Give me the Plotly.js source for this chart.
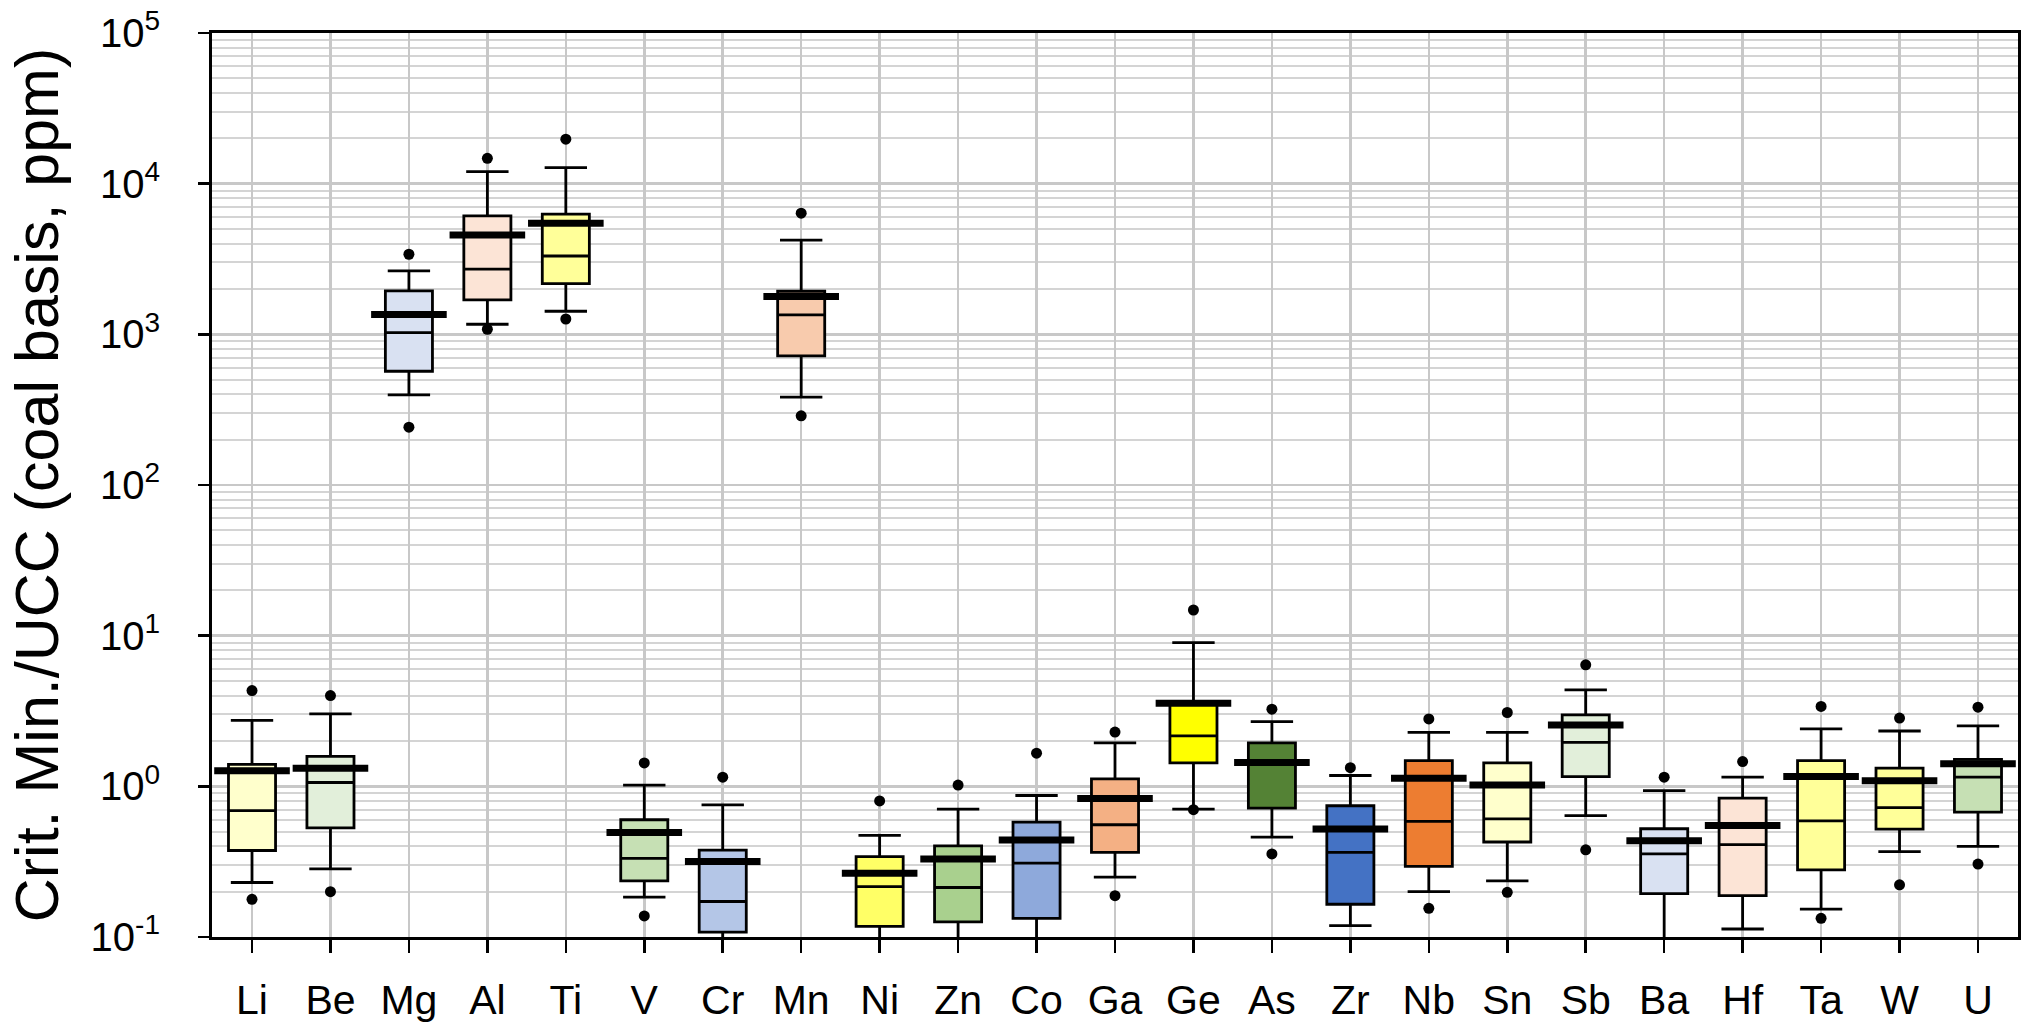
<!DOCTYPE html>
<html>
<head>
<meta charset="utf-8">
<script src="https://cdn.plot.ly/plotly-3.0.1.min.js"></script>
<style>html,body{margin:0;padding:0;background:#fff;}#chart{width:2024px;height:1024px;}</style>
</head>
<body>
<div id="chart"></div>
<script>
// Categories (critical elements)
const elements = ["Li","Be","Mg","Al","Ti","V","Cr","Mn","Ni","Zn","Co","Ga","Ge","As","Zr","Nb","Sn","Sb","Ba","Hf","Ta","W","U"];
// 5th percentile (lower dots)
const p5    = [0.178,0.20,242,1081,1264,0.138,0.05,288,0.06,0.07,0.07,0.188,0.70,0.356,0.09,0.155,0.198,0.379,0.07,0.08,0.133,0.222,0.305];
// 10th percentile (lower whisker)
const p10   = [0.23,0.283,396,1167,1423,0.184,0.07,383,0.08,0.09,0.09,0.25,0.706,0.46,0.119,0.20,0.236,0.64,0.09,0.113,0.153,0.369,0.40];
// 25th percentile
const q1    = [0.375,0.53,569,1692,2170,0.236,0.1077,720,0.1175,0.126,0.133,0.364,1.43,0.716,0.165,0.294,0.427,1.16,0.194,0.188,0.279,0.52,0.674];
// median
const med   = [0.69,1.06,1026,2705,3310,0.333,0.172,1346,0.216,0.213,0.309,0.556,2.16,1.42,0.364,0.585,0.608,1.96,0.356,0.41,0.59,0.723,1.15];
// mean
const mean  = [1.27,1.32,1352,4570,5460,0.494,0.317,1780,0.265,0.329,0.44,0.83,3.56,1.44,0.52,1.13,1.02,2.55,0.435,0.55,1.16,1.09,1.41];
// 75th percentile
const q3    = [1.40,1.58,1942,6110,6270,0.60,0.377,1932,0.342,0.403,0.578,1.12,3.60,1.94,0.743,1.48,1.43,2.98,0.523,0.835,1.48,1.32,1.51];
// 90th percentile (upper whisker)
const p90   = [2.74,3.03,2640,12020,12770,1.02,0.753,4225,0.472,0.706,0.869,1.94,9.0,2.69,1.18,2.28,2.28,4.37,0.937,1.15,2.41,2.33,2.52];
// 95th percentile (upper dots)
const p95   = [4.32,4.0,3400,14730,19720,1.43,1.15,6365,0.80,1.02,1.66,2.29,14.8,3.25,1.33,2.80,3.09,6.4,1.15,1.46,3.39,2.84,3.35];
// Box fill colours
const fills = ["#FFFFCC","#E2EFDA","#D9E1F2","#FCE4D6","#FFFF99","#C6E0B4","#B4C6E7","#F8CBAD","#FFFF66","#A9D08E","#8EA9DB","#F4B084","#FFFF00","#548235","#4472C4","#ED7D31","#FFFFCC","#E2EFDA","#D9E1F2","#FCE4D6","#FFFF99","#FFFF99","#C6E0B4"];
// Y tick labels
const yTickVals = [0.1,1,10,100,1000,10000,100000];
const yTickText = ["10<sup>-1</sup>","10<sup>0</sup>","10<sup>1</sup>","10<sup>2</sup>","10<sup>3</sup>","10<sup>4</sup>","10<sup>5</sup>"];

const FONT = "Arial, 'Liberation Sans', sans-serif";
const traces = [];
elements.forEach((el, i) => {
  traces.push({
    type: "box",
    x: [el],
    q1: [q1[i]], median: [med[i]], q3: [q3[i]],
    lowerfence: [p10[i]], upperfence: [p90[i]],
    fillcolor: fills[i],
    line: {color: "#000000", width: 2.8},
    width: 0.6,
    whiskerwidth: 0.9,
    boxpoints: false,
    showlegend: false,
    hoverinfo: "skip"
  });
});
traces.push({
  type: "scatter", mode: "markers", x: elements, y: mean,
  marker: {symbol: "line-ew", size: 54, color: "#000", line: {color: "#000", width: 7}},
  showlegend: false, hoverinfo: "skip", cliponaxis: true
});
traces.push({
  type: "scatter", mode: "markers", x: elements.concat(elements), y: p5.concat(p95),
  marker: {symbol: "circle", size: 11, color: "#000"},
  showlegend: false, hoverinfo: "skip", cliponaxis: true
});

const layout = {
  width: 2024, height: 1024,
  margin: {l: 212, r: 6, t: 33, b: 87},
  paper_bgcolor: "#fff", plot_bgcolor: "#fff",
  boxmode: "overlay",
  font: {family: FONT, color: "#000"},
  xaxis: {
    type: "category", categoryorder: "array", categoryarray: elements,
    range: [-0.51, 22.51],
    showgrid: true, gridcolor: "#C8C8C8", gridwidth: 2.5,
    showline: true, linecolor: "#000", linewidth: 3, mirror: true,
    ticks: "outside", ticklen: 13, tickwidth: 2.5, tickcolor: "#000",
    tickfont: {size: 41, family: FONT, color: "#000"},
    ticklabelstandoff: 12,
    zeroline: false
  },
  yaxis: {
    type: "log", range: [-1, 5],
    tickvals: yTickVals, ticktext: yTickText,
    showgrid: true, gridcolor: "#C8C8C8", gridwidth: 2.5,
    minor: {dtick: "D1", showgrid: true, gridcolor: "#D4D4D4", gridwidth: 2, ticks: ""},
    showline: true, linecolor: "#000", linewidth: 3, mirror: true,
    ticks: "outside", ticklen: 11, tickwidth: 2.5, tickcolor: "#000",
    tickfont: {size: 40, family: FONT, color: "#000"},
    ticklabelstandoff: 30,
    zeroline: false,
    title: {text: "Crit. Min./UCC (coal basis, ppm)", font: {size: 61, family: FONT, color: "#000"}, standoff: 13}
  }
};
Plotly.newPlot("chart", traces, layout, {displayModeBar: false, staticPlot: true});
</script>
</body>
</html>
